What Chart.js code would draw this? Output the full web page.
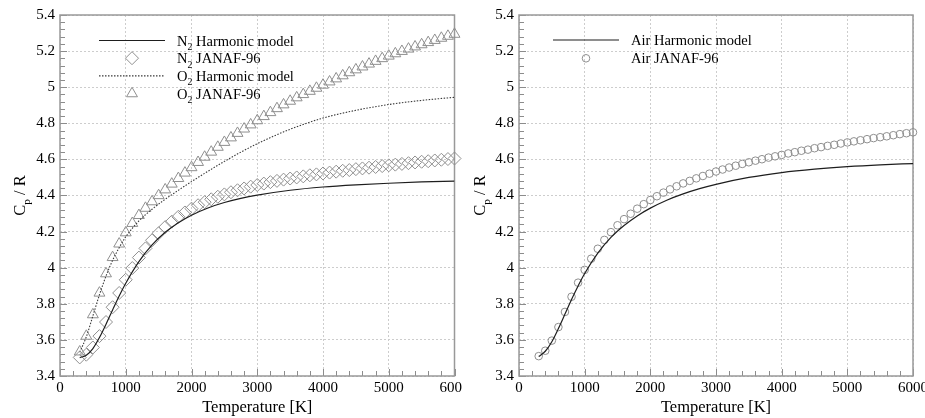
<!DOCTYPE html>
<html>
<head>
<meta charset="utf-8">
<script src="https://cdn.jsdelivr.net/npm/chart.js@4.4.0/dist/chart.umd.min.js"></script>
<style>
    body { margin: 0; background: #fff; }
    .box { position: absolute; top: 0; height: 418px; }
    #left { left: 0; width: 462px; }
    #right { left: 462px; width: 463px; }
</style>
</head>
<body>
<div class="box" id="left"><canvas id="chartN2O2"></canvas></div>
<div class="box" id="right"><canvas id="chartAir"></canvas></div>
<script>
// JANAF-96 tables, every 100 K
var janafT = [300, 400, 500, 600, 700, 800, 900, 1000,
    1100, 1200, 1300, 1400, 1500, 1600, 1700, 1800, 1900, 2000,
    2100, 2200, 2300, 2400, 2500, 2600, 2700, 2800, 2900, 3000,
    3100, 3200, 3300, 3400, 3500, 3600, 3700, 3800, 3900, 4000,
    4100, 4200, 4300, 4400, 4500, 4600, 4700, 4800, 4900, 5000,
    5100, 5200, 5300, 5400, 5500, 5600, 5700, 5800, 5900, 6000]

var n2Janaf = [3.503, 3.518, 3.558, 3.621, 3.699, 3.781, 3.860, 3.933,
    3.998, 4.056, 4.107, 4.152, 4.191, 4.225, 4.255, 4.282, 4.306, 4.327,
    4.346, 4.363, 4.379, 4.393, 4.406, 4.418, 4.429, 4.439, 4.449, 4.458,
    4.466, 4.474, 4.481, 4.488, 4.494, 4.500, 4.506, 4.512, 4.517, 4.522,
    4.527, 4.532, 4.537, 4.541, 4.546, 4.550, 4.554, 4.558, 4.563, 4.567,
    4.571, 4.575, 4.579, 4.583, 4.587, 4.590, 4.594, 4.598, 4.602, 4.605]

var o2Janaf = [3.534, 3.621, 3.740, 3.860, 3.967, 4.057, 4.132, 4.194,
    4.246, 4.290, 4.330, 4.366, 4.400, 4.432, 4.464, 4.495, 4.525, 4.555,
    4.584, 4.613, 4.641, 4.668, 4.695, 4.720, 4.745, 4.769, 4.792, 4.815,
    4.838, 4.860, 4.882, 4.903, 4.923, 4.942, 4.960, 4.978, 4.995, 5.012,
    5.030, 5.047, 5.064, 5.081, 5.097, 5.113, 5.129, 5.144, 5.159, 5.173,
    5.186, 5.199, 5.212, 5.224, 5.236, 5.248, 5.260, 5.272, 5.283, 5.294]

var airJanaf = [3.510, 3.540, 3.596, 3.671, 3.755, 3.839, 3.917, 3.988,
    4.050, 4.105, 4.154, 4.197, 4.235, 4.269, 4.299, 4.327, 4.352, 4.375,
    4.396, 4.416, 4.434, 4.451, 4.467, 4.481, 4.495, 4.508, 4.521, 4.533,
    4.544, 4.555, 4.565, 4.575, 4.584, 4.593, 4.601, 4.610, 4.617, 4.625,
    4.633, 4.640, 4.648, 4.654, 4.662, 4.668, 4.675, 4.681, 4.688, 4.694,
    4.700, 4.706, 4.712, 4.718, 4.723, 4.728, 4.734, 4.740, 4.745, 4.750]

// harmonic oscillator model curves
var modelT = [300, 400, 500, 600, 700, 800, 900, 1000, 1200, 1400, 1600, 1800,
    2000, 2250, 2500, 2750, 3000, 3500, 4000, 4500, 5000, 5500, 6000]
var n2Model = [3.502, 3.515, 3.552, 3.613, 3.687, 3.766, 3.843, 3.914, 4.034, 4.126, 4.196, 4.249,
    4.291, 4.331, 4.361, 4.384, 4.402, 4.429, 4.447, 4.459, 4.468, 4.475, 4.480]
var o2Model = [3.532, 3.617, 3.733, 3.850, 3.954, 4.041, 4.111, 4.171, 4.259, 4.324, 4.379, 4.429,
    4.477, 4.534, 4.589, 4.640, 4.687, 4.767, 4.829, 4.872, 4.904, 4.927, 4.944]
var airModel = [3.508, 3.537, 3.590, 3.663, 3.743, 3.824, 3.899, 3.968, 4.081, 4.168, 4.234, 4.287,
    4.330, 4.374, 4.409, 4.438, 4.462, 4.500, 4.527, 4.546, 4.560, 4.570, 4.577]

var serif = '"Liberation Serif", "Times New Roman", serif';

function pts(xs, ys) {
    return xs.map(function(x, i) { return {x: x, y: ys[i]}; });
}

// text with "_x" subscripts
function drawRich(ctx, text, x, y, size) {
    var parts = text.split(/_(\w)/);
    for (var i = 0; i < parts.length; i++) {
        var sub = i % 2 === 1;
        ctx.font = (sub ? size * 0.68 : size) + 'px ' + serif;
        ctx.fillText(parts[i], x, sub ? y + size * 0.3 : y);
        x += ctx.measureText(parts[i]).width;
    }
}

function richWidth(ctx, text, size) {
    var parts = text.split(/_(\w)/), w = 0;
    for (var i = 0; i < parts.length; i++) {
        ctx.font = (i % 2 === 1 ? size * 0.68 : size) + 'px ' + serif;
        w += ctx.measureText(parts[i]).width;
    }
    return w;
}

var decor = {
    id: 'decor',
    beforeDatasetsDraw: function(chart, args, opts) {
        var ctx = chart.ctx, a = chart.chartArea;
        var xs = chart.scales.x, ys = chart.scales.y;
        ctx.save();
        ctx.strokeStyle = '#8c8c8c';
        ctx.lineWidth = 1;
        ctx.beginPath();
        // inward minor/major ticks
        for (var t = 0; t <= 6000; t += 200) {
            var px = Math.round(xs.getPixelForValue(t)) + 0.5;
            ctx.moveTo(px, a.bottom);
            ctx.lineTo(px, a.bottom - (t % 1000 === 0 ? 7 : 5));
        }
        for (var k = 0; k <= 50; k++) {
            var py = Math.round(ys.getPixelForValue(3.4 + k * 0.04)) + 0.5;
            ctx.moveTo(a.left, py);
            ctx.lineTo(a.left + (k % 5 === 0 ? 7 : 5), py);
        }
        ctx.stroke();
        // plot frame
        ctx.strokeStyle = '#999';
        ctx.lineWidth = 1.5;
        ctx.strokeRect(a.left, a.top, a.right - a.left, a.bottom - a.top);
        ctx.restore();
    },
    afterDraw: function(chart, args, opts) {
        var ctx = chart.ctx, a = chart.chartArea;
        ctx.save();
        ctx.fillStyle = '#000';
        ctx.textBaseline = 'alphabetic';
        ctx.textAlign = 'left';

        // y axis title  C_p / R
        var title = 'C_p / R', size = 16.5;
        var w = richWidth(ctx, title, size);
        ctx.save();
        ctx.translate(opts.titleX, (a.top + a.bottom) / 2);
        ctx.rotate(-Math.PI / 2);
        drawRich(ctx, title, -w / 2, 0, size);
        ctx.restore();

        // legend inside the plot
        var lg = opts.legend;
        chart.data.datasets.forEach(function(ds, i) {
            var y = a.top + lg.top + i * lg.step;
            var x0 = a.left + lg.lineX, x1 = x0 + lg.lineLen;
            if (ds.showLine !== false) {
                ctx.save();
                ctx.strokeStyle = ds.borderColor;
                ctx.lineWidth = ds.borderWidth;
                ctx.setLineDash(ds.borderDash || []);
                ctx.beginPath();
                ctx.moveTo(x0, y);
                ctx.lineTo(x1, y);
                ctx.stroke();
                ctx.restore();
            } else {
                ctx.save();
                ctx.strokeStyle = ds.pointBorderColor;
                ctx.fillStyle = 'rgba(0,0,0,0)';
                Chart.helpers.drawPoint(ctx, {
                    pointStyle: ds.pointStyle, radius: ds.pointRadius,
                    rotation: 0, borderWidth: ds.pointBorderWidth
                }, (x0 + x1) / 2, y);
                ctx.restore();
            }
            ctx.fillStyle = '#000';
            drawRich(ctx, ds.label, a.left + lg.textX, y + 5, 14.5);
        });
        ctx.restore();
    }
};

function lineSet(label, xs, ys, dash) {
    return {
        label: label,
        data: pts(xs, ys),
        borderColor: dash ? '#3a3a3a' : '#1e1e1e',
        borderWidth: dash ? 1.1 : 1.2,
        borderDash: dash || [],
        pointRadius: 0,
        cubicInterpolationMode: 'monotone',
        fill: false
    };
}

function markSet(label, xs, ys, style, r) {
    return {
        label: label,
        data: pts(xs, ys),
        showLine: false,
        pointStyle: style,
        pointRadius: r,
        pointBorderWidth: 1,
        pointBorderColor: '#8f8f8f',
        pointBackgroundColor: 'rgba(0,0,0,0)',
        clip: false
    };
}

function makeChart(id, datasets, yWidth, padRight, titleX, legend) {
    return new Chart(document.getElementById(id), {
        type: 'line',
        data: { datasets: datasets },
        plugins: [decor],
        options: {
            responsive: true,
            maintainAspectRatio: false,
            animation: false,
            events: [],
            layout: { padding: { top: 15, right: padRight, bottom: 0, left: 0 } },
            plugins: {
                legend: { display: false },
                tooltip: { enabled: false },
                decor: { titleX: titleX, legend: legend }
            },
            scales: {
                x: {
                    type: 'linear',
                    min: 0,
                    max: 6000,
                    ticks: { stepSize: 1000, color: '#000', padding: 3, maxRotation: 0,
                        font: { family: serif, size: 15 },
                        callback: function(v) { return String(v); } },
                    grid: { color: '#cdcdcd', drawTicks: false },
                    border: { display: false, dash: [2, 2] },
                    title: { display: true, text: 'Temperature [K]', color: '#000', padding: 0,
                        font: { family: serif, size: 16.5 } },
                    afterFit: function(s) { s.height = 42; s.paddingLeft = 0; s.paddingRight = 0; }
                },
                y: {
                    min: 3.4,
                    max: 5.4,
                    ticks: { stepSize: 0.2, color: '#000', padding: 5,
                        font: { family: serif, size: 15 },
                        callback: function(v) { return String(Math.round(v * 10) / 10); } },
                    grid: { color: '#cdcdcd', drawTicks: false },
                    border: { display: false, dash: [2, 2] },
                    afterFit: function(s) { s.width = yWidth; }
                }
            }
        }
    });
}

makeChart('chartN2O2', [
    lineSet('N_2 Harmonic model', modelT, n2Model),
    markSet('N_2 JANAF-96', janafT, n2Janaf, 'rectRot', 6.5),
    lineSet('O_2 Harmonic model', modelT, o2Model, [1.5, 1.5]),
    markSet('O_2 JANAF-96', janafT, o2Janaf, 'triangle', 6.3)
], 60, 7, 25, { lineX: 39, lineLen: 66, textX: 117, top: 25.5, step: 17.7 });

makeChart('chartAir', [
    lineSet('Air Harmonic model', modelT, airModel),
    markSet('Air JANAF-96', janafT, airJanaf, 'circle', 3.8)
], 57, 12, 23, { lineX: 34, lineLen: 66, textX: 112, top: 25, step: 18.3 });
</script>
</body>
</html>
